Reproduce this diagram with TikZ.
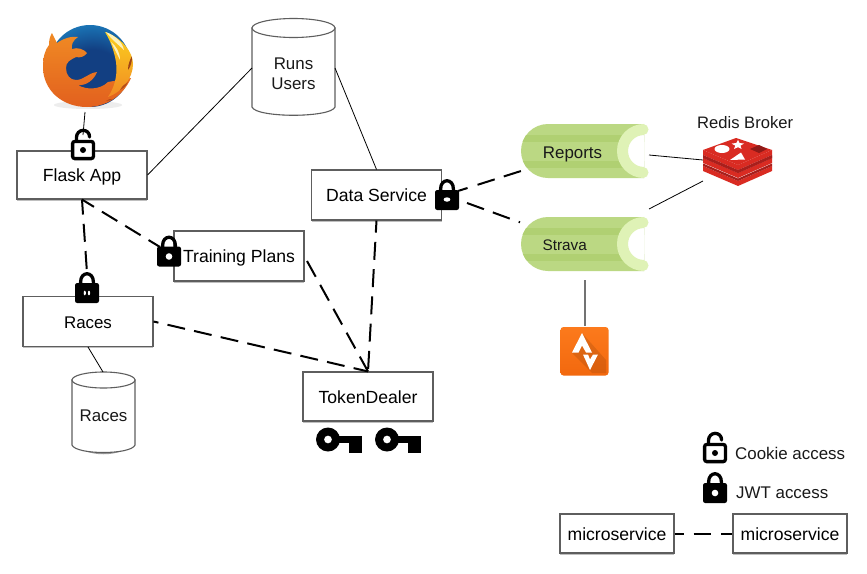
\documentclass[tikz,border=0pt]{standalone}
\usepackage{fontspec}
\setmainfont{Liberation Sans}
\usetikzlibrary{shadows}
\definecolor{boxline}{HTML}{5E5E5E}
\definecolor{qbase}{HTML}{BBD883}
\definecolor{qdark}{HTML}{B0D072}
\definecolor{qlight}{HTML}{DFF2B6}
\definecolor{rbright}{HTML}{D92B22}
\definecolor{rdark}{HTML}{A81F1C}
\definecolor{ffblued}{HTML}{123F82}
\definecolor{ffblue}{HTML}{1C7FC0}
\definecolor{ffblueL}{HTML}{45BEDF}
\definecolor{fforange}{HTML}{F08A24}
\definecolor{ffdeep}{HTML}{E2601E}
\definecolor{ffyellow}{HTML}{FCD11E}
\definecolor{stravaA}{HTML}{FC7A1C}
\definecolor{stravaB}{HTML}{F2680E}
\pgfdeclareradialshading{ffglobe}{\pgfpoint{0bp}{0bp}}{color(0bp)=(ffblued); color(14bp)=(ffblued); color(27bp)=(ffblue); color(40bp)=(ffblueL); color(50bp)=(ffblueL)}
\tikzset{
  svcbox/.style={draw=boxline,line width=1.1pt,fill=white,font=\fontsize{17.6}{20}\selectfont,inner sep=0pt,
    text height=13pt,text depth=0pt,
    drop shadow={shadow xshift=0pt,shadow yshift=-1.5pt,opacity=.25,fill=black}},
  plain/.style={font=\fontsize{16.9}{20}\selectfont,inner sep=0pt,text=black!90},
  solidlink/.style={draw=black,line width=.8pt},
  dashlink/.style={draw=black,line width=2pt,dash pattern=on 18pt off 9.3pt},
  cylside/.style={draw=boxline,line width=1.1pt,fill=white},
}
% closed lock centred on the body
\newcommand{\closedlockat}[3]{%
  \begin{scope}[shift={(#1,#2)}]
    \draw[black,line width=3.3pt] (-6.4,-4) -- (-6.4,-11) .. controls (-6.4,-22) and (6.4,-22) .. (6.4,-11) -- (6.4,-4);
    \fill[black,rounded corners=2.2pt] (-12,-10) rectangle (12,10);
    #3
  \end{scope}}
\newcommand{\openlockat}[2]{%
  \begin{scope}[shift={(#1,#2)}]
    \draw[black,line width=3.3pt,line cap=round] (-6.6,-8) -- (-6.6,-12) .. controls (-6.6,-22) and (6.6,-22) .. (6.6,-13);
    \draw[black,line width=3.3pt,fill=white,rounded corners=2.2pt] (-10.4,-8.6) rectangle (10.4,8.6);
    \fill[black] (0,0) circle (3pt);
  \end{scope}}
\newcommand{\keyat}[2]{%
  \begin{scope}[shift={(#1,#2)}]
    \fill[black,even odd rule] (12,11) circle (12pt) (12,11) circle (4pt);
    \fill[black] (20,7.5) rectangle (46,14.5);
    \fill[black] (33,7.5) rectangle (45.5,24.5);
  \end{scope}}
\newcommand{\queueat}[1]{%
  \begin{scope}[shift={(0,#1)}]
    \begin{scope}
      \clip (500,-40) rectangle (644,40);
      \begin{scope}
        \clip[rounded corners=27pt] (521,-27) rectangle (700,27);
        \fill[qbase] (500,-40) rectangle (700,40);
        \fill[qdark] (500,-16) rectangle (700,-9.5);
        \fill[qdark] (500,10) rectangle (700,17);
      \end{scope}
      \fill[white] (644,0) circle (16.5pt);
      \draw[qlight,line width=11pt] (644,0) circle (21.5pt);
    \end{scope}
    \fill[qlight] (643,-21.5) circle (5.5pt);
    \fill[qlight] (643,21.5) circle (5.5pt);
  \end{scope}}
\begin{document}
\begin{tikzpicture}[x=1pt,y=-1pt]
\useasboundingbox (0,0) rectangle (867,573);
\fill[white] (0,0) rectangle (867,573);

% ---- Firefox logo
\begin{scope}
  \fill[black!7] (88,105) ellipse (34pt and 4pt);
  \begin{scope}
    \clip (90,66) circle (41pt);
    \shade[shading=ffglobe] (93,82) circle (58pt);
  \end{scope}
  % fox
  \shade[top color=fforange,bottom color=ffdeep] (52,33)
    -- (57,43)
    .. controls (64,38) and (72,36) .. (78,37)
    .. controls (73,40) and (71,45) .. (72,49)
    .. controls (77,47) and (84,49) .. (87,53)
    .. controls (84,57) and (80,58) .. (76,57)
    .. controls (70,60) and (66,62) .. (66,68)
    .. controls (66,75) and (70,80) .. (76,80)
    .. controls (84,80) and (88,73) .. (97,72)
    .. controls (94,80) and (86,86) .. (78,85)
    .. controls (86,90) and (100,90) .. (108,82)
    -- (131,78)
    .. controls (122,98) and (104,107) .. (87,107)
    .. controls (62,107) and (43,90) .. (43,67)
    .. controls (43,57) and (45,50) .. (49,45)
    .. controls (49,40) and (50,36) .. (52,33) -- cycle;
  % flame
  \shade[top color=ffyellow,bottom color=fforange] (105,32)
    .. controls (122,38) and (133,52) .. (133,64)
    .. controls (133,78) and (122,92) .. (108,97)
    .. controls (114,88) and (118,76) .. (116,62)
    .. controls (114,50) and (110,40) .. (105,32) -- cycle;
  \fill[white!70!ffyellow] (106,32) .. controls (116,36) and (122,42) .. (124,50) .. controls (120,46) and (112,40) .. (106,32) -- cycle;
  \fill[white!70!ffyellow] (111,42) .. controls (116,46) and (120,52) .. (120,60) .. controls (117,54) and (114,48) .. (111,42) -- cycle;
  % dark flecks
  \fill[ffdeep!70!black] (132,56) .. controls (132,62) and (131,66) .. (128,70) .. controls (128,64) and (130,60) .. (132,56) -- cycle;
  \fill[ffdeep!80!black] (128,82) .. controls (126,86) and (124,88) .. (120,90) .. controls (122,86) and (125,84) .. (128,82) -- cycle;
  \fill[ffdeep!80!black] (113,99) .. controls (111,100) and (108,101) .. (106,101) .. controls (108,99) and (110,99) .. (113,99) -- cycle;
\end{scope}

% ---- Cylinders
\begin{scope}
  \fill[black!40] (252,100) .. controls (262,121) and (325,121) .. (335,100) -- cycle;
  \draw[cylside] (252,28) -- (252,107) .. controls (256,118) and (331,118) .. (335,107) -- (335,28) -- cycle;
  \draw[cylside] (293.5,28) ellipse (41.5pt and 9.5pt);
  \fill[black!40] (72,440) .. controls (80,459) and (127,459) .. (135,440) -- cycle;
  \draw[cylside] (72,380) -- (72,445) .. controls (76,455) and (131,455) .. (135,445) -- (135,380) -- cycle;
  \draw[cylside] (103.5,380) ellipse (31.5pt and 8pt);
\end{scope}
\node[plain,align=center] (runs) at (293.5,73.5) {Runs\\Users};
\node[plain,anchor=base] (racesdb) at (103.5,421.7) {Races};

% ---- Boxes
\node[svcbox,minimum width=130pt,minimum height=48pt] (flask) at (82,175) {Flask App};
\node[svcbox,minimum width=130pt,minimum height=50pt] (data) at (376.5,195) {Data Service};
\node[svcbox,minimum width=130pt,minimum height=50pt] (training) at (239,256) {Training Plans};
\node[svcbox,minimum width=130pt,minimum height=50pt,font=\fontsize{16.9}{20}\selectfont] (races) at (88,321.5) {Races};
\node[svcbox,minimum width=130pt,minimum height=49pt] (token) at (368,396.5) {TokenDealer};
\node[svcbox,minimum width=114pt,minimum height=39pt] (micro1) at (617,533.5) {microservice};
\node[svcbox,minimum width=114pt,minimum height=39pt] (micro2) at (790,533.5) {microservice};

% ---- Queues
\queueat{151}
\queueat{244}
\node[plain,anchor=base] (reports) at (572.5,158) {Reports};
\node[plain,anchor=base,font=\fontsize{15.3}{20}\selectfont] (strava) at (564.7,250.3) {Strava};

% ---- Redis logo
\begin{scope}
  \foreach \d in {16,8,0}{
    \fill[rbright] (703,150+\d) -- (738,165+\d) -- (772,150+\d) -- (772,155+\d) -- (738,170+\d) -- (703,155+\d) -- cycle;
  }
  \foreach \d in {16,8}{
    \fill[rdark] (703,147.5+\d) -- (738,162.5+\d) -- (772,147.5+\d) -- (772,150+\d) -- (738,165+\d) -- (703,150+\d) -- cycle;
  }
  \fill[rdark] (703,155) -- (738,170) -- (772,155) -- (772,158) -- (738,173) -- (703,158) -- cycle;
  \fill[rbright] (703,150) -- (736,138) -- (772,150) -- (738,165) -- cycle;
  \fill[white] (722,149) ellipse (7.5pt and 4pt);
  \fill[white] (738,140) -- (739.6,143) -- (744,143.6) -- (740.5,145.6) -- (741.5,149) -- (738,147.2) -- (734,149) -- (735.3,145.6) -- (731.5,143.6) -- (736.3,143) -- cycle;
  \fill[white] (730,160) -- (745,159.5) -- (741,152.5) -- cycle;
  \fill[rdark!85!black] (750,149) -- (759,145) -- (767,149) -- (759,153) -- cycle;
\end{scope}

% ---- Strava logo
\begin{scope}
  \shade[rounded corners=3pt,top color=stravaA,bottom color=stravaB] (560.5,327) rectangle (608.5,375.5);
  \fill[black,opacity=.10] (572,353) -- (582,333) -- (606,360) -- (606,373) -- (592,373) -- cycle;
  \fill[white] (582,333) -- (572,352.5) -- (578.5,352.5) -- (582,345.5) -- (586,352.5) -- (592,352.5) -- cycle;
  \fill[white] (590,370) -- (583,354.5) -- (588,354.5) -- (590,359.5) -- (593,354.5) -- (598,354.5) -- cycle;
\end{scope}

% ---- Anchors for free connector ends
\coordinate (ffbase) at (85,112);
\coordinate (lockflask) at (83,135);
\coordinate (lockraces) at (87,273);
\coordinate (locktrain) at (160,247);
\coordinate (trainout) at (307,261);
\coordinate (dsout) at (458,191);
\coordinate (dsoutB) at (467,203);
\coordinate (repin) at (521,171);
\coordinate (strin) at (520,222.3);
\coordinate (repout) at (649,155);
\coordinate (strout) at (649,209);
\coordinate (redisA) at (703,160);
\coordinate (redisB) at (703,181);
\coordinate (strdown) at (585,280);
\coordinate (stricon) at (585,326);
\coordinate (runsW) at (252,68);
\coordinate (runsE) at (335,68);
\coordinate (racesdbtop) at (103,372);
\coordinate (racesbot) at (88,347);

% ---- Connectors
\draw[solidlink] (ffbase) -- (lockflask);
\draw[solidlink] (flask.east) -- (runsW);
\draw[solidlink] (runsE) -- (data.north);
\draw[solidlink] (racesbot) -- (racesdbtop);
\draw[solidlink] (repout) -- (redisA);
\draw[solidlink] (strout) -- (redisB);
\draw[draw=black!55,line width=1.2pt] (strdown) -- (stricon);

\draw[dashlink,dash phase=3pt] (flask.south) -- (lockraces);
\draw[dashlink,dash phase=4pt] (flask.south) -- (locktrain);
\draw[dashlink,dash phase=13pt] (races.east) -- (token.north);
\draw[dashlink] (trainout) -- (token.north);
\draw[dashlink,dash phase=6pt] (data.south) -- (token.north);
\draw[dashlink,dash pattern=on 10pt off 10.5pt on 18pt off 9.5pt on 18pt off 9pt] (dsout) -- (repin);
\draw[dashlink,dash pattern=on 18pt off 9.5pt on 18pt off 9.5pt on 2pt off 9pt] (dsoutB) -- (strin);
\draw[dashlink,dash pattern=on 9.5pt off 9.5pt on 17.5pt off 10pt on 13pt off 9pt] (micro1.east) -- (micro2.west);

% ---- Locks
\openlockat{83}{150}
\closedlockat{447}{200}{\fill[white] (0,-0.5) ellipse (3.4pt and 2.2pt);}
\closedlockat{169}{256.5}{\fill[white] (0,0) circle (3.3pt);}
\closedlockat{87}{293}{\fill[white] (-2.2,0) ellipse (1.1pt and 2.3pt);\fill[white] (2,0) ellipse (1.1pt and 2.3pt);}
\openlockat{715}{453}
\closedlockat{715}{493}{\fill[white] (0,0) circle (3.3pt);}

% ---- Keys
\keyat{316}{428.5}
\keyat{375}{428.5}

% ---- Texts
\node[plain,anchor=base west,font=\fontsize{16.6}{20}\selectfont] (redis) at (697,128.3) {Redis Broker};
\node[plain,anchor=base west] (cookie) at (735,459.3) {Cookie access};
\node[plain,anchor=base west] (jwt) at (736,498.3) {JWT access};
\end{tikzpicture}
\end{document}
